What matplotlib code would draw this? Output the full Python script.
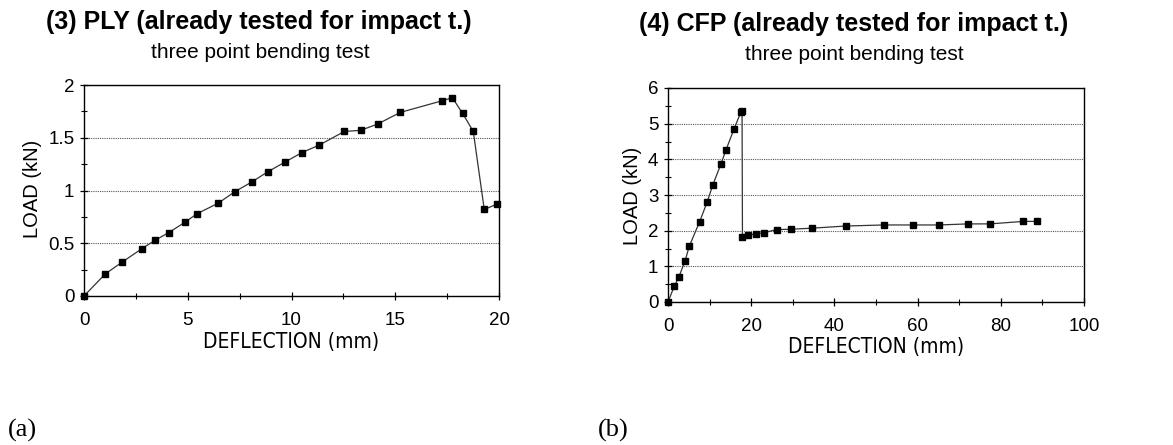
import matplotlib
matplotlib.use("Agg")
import matplotlib.pyplot as plt
from matplotlib.ticker import MultipleLocator

# (3) PLY specimen: deflection (mm) vs load (kN)
ply_deflection = [0.0, 1.03, 1.83, 2.80, 3.44, 4.08, 4.87, 5.45, 6.47, 7.28,
                  8.08, 8.88, 9.69, 10.51, 11.33, 12.55, 13.33, 14.15, 15.24,
                  17.25, 17.75, 18.25, 18.76, 19.29, 19.89]
ply_load = [0.0, 0.21, 0.32, 0.45, 0.53, 0.60, 0.70, 0.78, 0.88, 0.99,
            1.08, 1.18, 1.27, 1.36, 1.43, 1.56, 1.57, 1.63, 1.74,
            1.85, 1.88, 1.73, 1.56, 0.82, 0.87]

# (4) CFP specimen: deflection (mm) vs load (kN)
cfp_deflection = [0.0, 1.5, 2.6, 4.1, 5.1, 7.6, 9.4, 10.8, 12.7, 13.9,
                  15.9, 17.5, 17.8, 17.9, 19.2, 21.2, 23.0, 26.1, 29.5,
                  34.7, 42.7, 51.9, 58.9, 65.1, 72.2, 77.4, 85.4, 88.6]
cfp_load = [0.0, 0.44, 0.70, 1.15, 1.56, 2.25, 2.80, 3.29, 3.86, 4.25,
            4.86, 5.32, 5.36, 1.82, 1.87, 1.91, 1.94, 2.03, 2.04,
            2.07, 2.13, 2.16, 2.16, 2.16, 2.19, 2.19, 2.26, 2.26]

ply_yticks = [0, 0.5, 1, 1.5, 2]
ply_yticklabels = ["0", "0.5", "1", "1.5", "2"]
ply_xticks = [0, 5, 10, 15, 20]
cfp_yticks = [0, 1, 2, 3, 4, 5, 6]
cfp_xticks = [0, 20, 40, 60, 80, 100]

W, H = 1173, 445
fig = plt.figure(figsize=(W / 100, H / 100), dpi=100)
fig.patch.set_facecolor("white")

SANS = ["Liberation Sans", "DejaVu Sans"]
SERIF = ["Liberation Serif", "DejaVu Serif"]


def px_axes(x0, y_top, x1, y_bot):
    return fig.add_axes([x0 / W, 1 - y_bot / H, (x1 - x0) / W, (y_bot - y_top) / H])


def ftext(x, y, s, **kw):
    return fig.text(x / W, 1 - y / H, s, **kw)


def style_axes(ax, xmax, ymax, xmajor, xminor, yminor):
    ax.set_xlim(0, xmax)
    ax.set_ylim(0, ymax)
    for sp in ax.spines.values():
        sp.set_linewidth(1.0)
        sp.set_color("black")
    ax.xaxis.set_major_locator(MultipleLocator(xmajor))
    ax.xaxis.set_minor_locator(MultipleLocator(xminor))
    ax.yaxis.set_minor_locator(MultipleLocator(yminor))
    ax.tick_params(axis="both", which="major", direction="inout", length=6,
                   width=0.9, labelsize=13.5)
    ax.tick_params(axis="x", which="major", pad=8.5)
    ax.tick_params(axis="y", which="major", pad=4)
    ax.tick_params(axis="both", which="minor", direction="inout", length=4,
                   width=0.8)
    for lab in ax.get_xticklabels() + ax.get_yticklabels():
        lab.set_fontfamily(SANS)
    ax.grid(axis="y", which="major", linestyle=(0, (1, 1)), color="#555555",
            linewidth=0.8)
    ax.set_axisbelow(True)


line_kw = dict(color="#333333", linewidth=0.9, marker="s", markersize=4.6,
               markerfacecolor="black", markeredgecolor="black", clip_on=False,
               zorder=3)

# Left panel: PLY
ax1 = px_axes(84, 85, 499, 296)
ax1.plot(ply_deflection, ply_load, **line_kw)
ax1.set_xticks(ply_xticks)
ax1.set_yticks(ply_yticks)
ax1.set_yticklabels(ply_yticklabels)
style_axes(ax1, 20, 2, 5, 2.5, 0.25)

# Right panel: CFP
ax2 = px_axes(668, 88, 1084, 302)
ax2.plot(cfp_deflection, cfp_load, **line_kw)
ax2.set_xticks(cfp_xticks)
ax2.set_yticks(cfp_yticks)
style_axes(ax2, 100, 6, 20, 10, 0.5)

# Titles and subtitles
ftext(259, 22, "(3) PLY (already tested for impact t.)", ha="center",
      va="center", fontsize=18, fontweight="bold", family=SANS)
ftext(260, 53, "three point bending test", ha="center", va="center",
      fontsize=15, family=SANS)
ftext(854, 24, "(4) CFP (already tested for impact t.)", ha="center",
      va="center", fontsize=18, fontweight="bold", family=SANS)
ftext(854, 55, "three point bending test", ha="center", va="center",
      fontsize=15, family=SANS)

# Axis labels
ftext(291, 342, "DEFLECTION (mm)", ha="center", va="center", fontsize=15,
      family=["DejaVu Sans"], fontstretch="condensed")
ftext(876, 347, "DEFLECTION (mm)", ha="center", va="center", fontsize=15,
      family=["DejaVu Sans"], fontstretch="condensed")
ftext(33, 189, "LOAD (kN)", ha="center", va="center", rotation=90,
      fontsize=14.5, family=SANS)
ftext(633, 196, "LOAD (kN)", ha="center", va="center", rotation=90,
      fontsize=14.5, family=SANS)

# Panel letters
ftext(8, 430, "(a)", ha="left", va="center", fontsize=19, family=SERIF)
ftext(598, 430, "(b)", ha="left", va="center", fontsize=19, family=SERIF)

fig.savefig("out.png", dpi=100, facecolor="white")
